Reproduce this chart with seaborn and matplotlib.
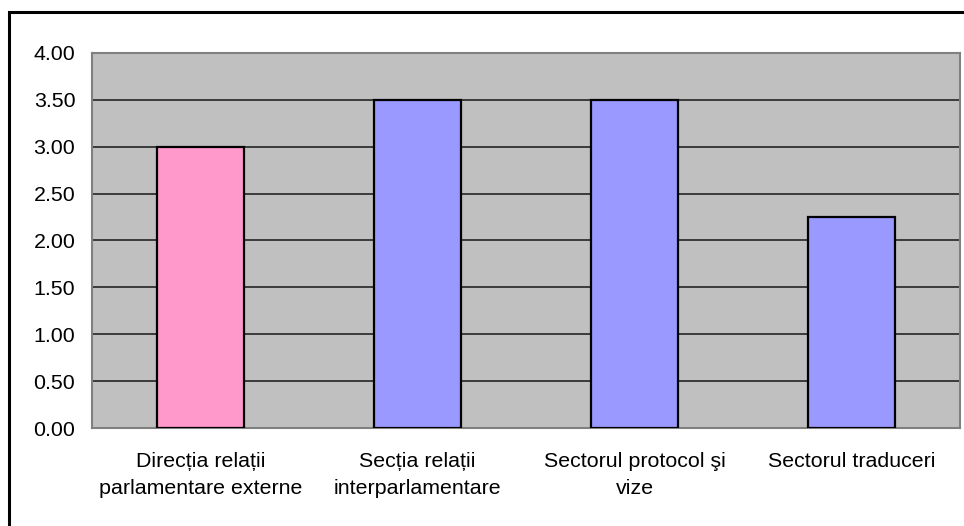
import matplotlib
matplotlib.use("Agg")
import matplotlib.pyplot as plt
import seaborn as sns
import pandas as pd
from matplotlib.patches import Rectangle

# Data
categories = [
    "Direcția relații\nparlamentare externe",
    "Secția relații\ninterparlamentare",
    "Sectorul protocol şi\nvize",
    "Sectorul traduceri",
]
values = [3.00, 3.50, 3.50, 2.25]
bar_colors = ["#FF99CC", "#9999FF", "#9999FF", "#9999FF"]
y_ticks = [0.0, 0.5, 1.0, 1.5, 2.0, 2.5, 3.0, 3.5, 4.0]

sns.set_style("white")
plt.rcParams["font.family"] = ["Liberation Sans", "DejaVu Sans"]

W, H, DPI = 964, 526, 100
FS = 15.4
fig = plt.figure(figsize=(W / DPI, H / DPI), dpi=DPI)
fig.patch.set_facecolor("white")

# Plot area in pixel coordinates
left, right, top, bottom = 92, 960, 53, 428
ax = fig.add_axes([left / W, (H - bottom) / H, (right - left) / W, (bottom - top) / H])
ax.set_facecolor("#C0C0C0")

df = pd.DataFrame({"cat": categories, "val": values})
sns.barplot(
    data=df, x="cat", y="val", hue="cat", palette=bar_colors,
    width=0.405, edgecolor="black", linewidth=1.6, legend=False,
    saturation=1, ax=ax, zorder=3,
)

ax.set_ylim(0, 4)
ax.set_xlim(-0.5, len(categories) - 0.5)
ax.set_yticks(y_ticks)
ax.set_yticklabels([f"{v:.2f}" for v in y_ticks])
ax.set_xlabel("")
ax.set_ylabel("")

# Horizontal gridlines
ax.yaxis.grid(True, color="#303030", linewidth=1.3)
ax.set_axisbelow(True)

# Category ticks sit at the boundaries between categories
ax.set_xticks([i + 0.5 for i in range(-1, len(categories))], minor=False)
ax.set_xticklabels([])
ax.set_xticks(range(len(categories)), minor=True)
ax.set_xticklabels(categories, minor=True)
ax.tick_params(axis="x", which="major", direction="out", length=6, width=1, color="#808080")
ax.tick_params(axis="x", which="minor", length=0, pad=17, labelsize=FS, labelcolor="black")
ax.tick_params(axis="y", direction="out", length=6, width=1, color="#808080",
               pad=6, labelsize=FS, labelcolor="black")
for lbl in ax.get_xticklabels(minor=True):
    lbl.set_linespacing(1.53)

for side in ["left", "right", "top", "bottom"]:
    ax.spines[side].set_visible(True)
    ax.spines[side].set_color("#808080")
    ax.spines[side].set_linewidth(1.5)

# Outer chart frame
fig.patches.append(Rectangle((9 / W, -0.05), 1.1, (H - 12) / H + 0.05,
                             transform=fig.transFigure, fill=False,
                             edgecolor="black", linewidth=2.2))

fig.savefig("out.png", dpi=DPI)
